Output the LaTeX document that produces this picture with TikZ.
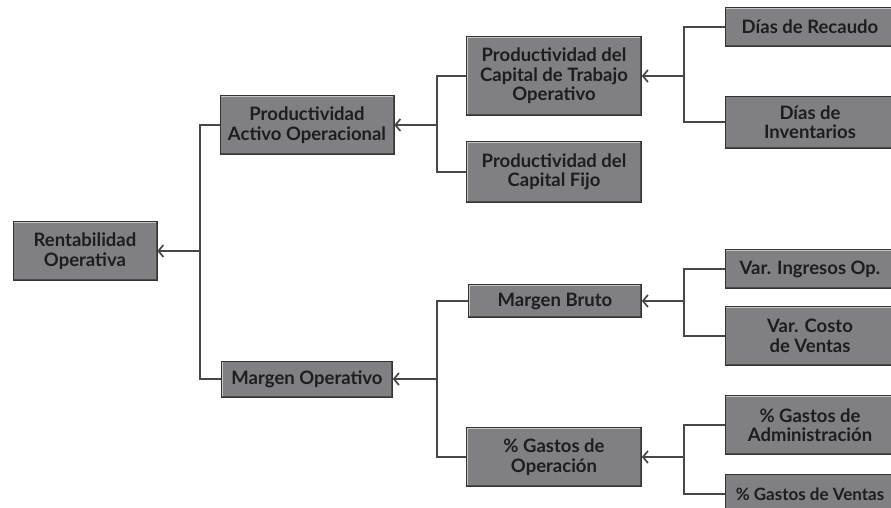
\documentclass[tikz,border=0pt]{standalone}
\usepackage{fontspec}
\setmainfont{Lato}
\usepackage{tikz}
\usetikzlibrary{arrows, arrows.meta}

\definecolor{cajagris}{RGB}{128,128,130}
\definecolor{textogris}{RGB}{30,28,30}

\tikzset{
  caja/.style={draw=black!80, line width=0.6pt, fill=cajagris, inner sep=0pt,
    align=center, text=textogris, font=\fontsize{18.5}{19.5}\selectfont\bfseries,
    path picture={
      \draw[line width=2.4pt, gray!45] (path picture bounding box.south west)
        -- (path picture bounding box.north west) -- (path picture bounding box.north east);
      \draw[line width=3pt, black!70] (path picture bounding box.north east)
        -- (path picture bounding box.south east) -- (path picture bounding box.south west);
    }},
  linea/.style={line width=1.7pt, black!72},
  flecha/.style={linea, -{Straight Barb[length=5pt, width=12pt]}}
}

\begin{document}
\begin{tikzpicture}[x=1pt, y=-1pt]
\clip (0, 0) rectangle (891, 507);
\fill[white] (0, 0) rectangle (891, 507);

% nivel 0
\node at (85, 251) (rent) [caja, minimum width=144pt, minimum height=59pt] {Rentabilidad\\Operativa};

% nivel 1
\node at (307, 125) (pao) [caja, minimum width=174pt, minimum height=59pt] {Productividad\\Activo Operacional};
\node at (307, 379) (mo) [caja, minimum width=171pt, minimum height=36pt] {Margen Operativo};

% nivel 2
\node at (554, 76) (pct) [caja, minimum width=175pt, minimum height=79pt] {Productividad del\\Capital de Trabajo\\Operativo};
\node at (554, 172) (pcf) [caja, minimum width=175pt, minimum height=61pt] {Productividad del\\Capital Fijo};
\node at (555, 301) (mb) [caja, minimum width=173pt, minimum height=33pt] {Margen Bruto};
\node at (554, 457) (go) [caja, minimum width=175pt, minimum height=59pt] {\% Gastos de\\Operación};

% nivel 3
\node at (810, 27) (dr) [caja, minimum width=170pt, minimum height=39pt] {Días de Recaudo};
\node at (810, 122) (di) [caja, minimum width=170pt, minimum height=52pt] {Días de\\Inventarios};
\node at (810, 269) (vi) [caja, minimum width=170pt, minimum height=39pt] {Var. Ingresos Op.};
\node at (810, 336) (vc) [caja, minimum width=170pt, minimum height=59pt] {Var. Costo\\de Ventas};
\node at (810, 425) (ga) [caja, minimum width=170pt, minimum height=59pt] {\% Gastos de\\Administración};
\node at (810, 494) (gv) [caja, minimum width=170pt, minimum height=40pt, font=\fontsize{17}{19}\selectfont\bfseries] {\% Gastos de Ventas};

% conectores
\coordinate (b0) at (200, 251);
\coordinate (b1) at (437, 125);
\coordinate (b2) at (684, 76);
\coordinate (b3) at (437, 379);
\coordinate (b4) at (684, 301);
\coordinate (b5) at (684, 457);

\draw[flecha] (b0) -- (rent.east);
\draw[linea] (pao.west) -| (b0) |- (mo.west);

\draw[flecha] (b1) -- (pao.east);
\draw[linea] (pct.west) -| (b1) |- (pcf.west);

\draw[flecha] (b2) -- (pct.east);
\draw[linea] (dr.west) -| (b2) |- (di.west);

\draw[flecha] (b3) -- (mo.east);
\draw[linea] (mb.west) -| (b3) |- (go.west);

\draw[flecha] (b4) -- (mb.east);
\draw[linea] (vi.west) -| (b4) |- (vc.west);

\draw[flecha] (b5) -- (go.east);
\draw[linea] (ga.west) -| (b5) |- (gv.west);
\end{tikzpicture}
\end{document}
